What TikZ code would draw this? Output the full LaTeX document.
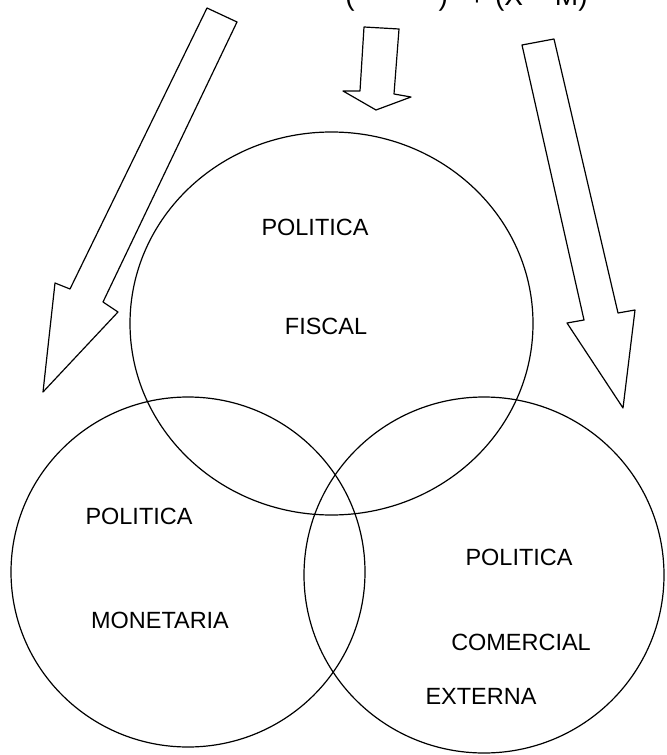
\documentclass[tikz,border=0pt]{standalone}
\usepackage{fontspec}
\setmainfont{Liberation Sans}

\tikzset{
  rotulo/.style={inner sep=0pt, font=\fontsize{17.6}{20}\selectfont},
  trazo/.style={line width=0.9pt, line join=round}
}

\begin{document}
\begin{tikzpicture}[x=0.75pt, y=-0.75pt]

\useasboundingbox (0,0) rectangle (666,755);

% Ecuacion (cortada arriba)
\begin{scope}
\clip (0,0) rectangle (666,755);
\node[rotulo, anchor=base west, font=\fontsize{21}{24}\selectfont] (ecuacion)
at (345,6)
{(\hspace{3em})\hspace{0.75em}+\hspace{0.35em}(X − M)};
\end{scope}

% Flecha izquierda
\draw[trazo]
(207,8)
-- (237,22)
-- (103,302)
-- (118,312)
-- (43,392)
-- (55,283)
-- (70,289)
-- cycle;

% Flecha central
\draw[trazo]
(364,27)
-- (399,29)
-- (394,94)
-- (411,97)
-- (376,110)
-- (343,91)
-- (360,91)
-- cycle;

% Flecha derecha
\draw[trazo]
(522,45)
-- (554,39)
-- (618,313)
-- (635,310)
-- (623,408)
-- (567,323)
-- (584,320)
-- cycle;

% Circulos
\draw[trazo] (331.5,323.5) ellipse [x radius=201.5, y radius=191.5];
\draw[trazo] (188,572) ellipse [x radius=177, y radius=175];
\draw[trazo] (484,575) ellipse [x radius=180, y radius=178];

% Politica fiscal
\node[rotulo] (fiscal1) at (315,227) {POLITICA};
\node[rotulo] (fiscal2) at (326,326) {FISCAL};

% Politica monetaria
\node[rotulo] (monet1) at (139,516) {POLITICA};
\node[rotulo] (monet2) at (160,620) {MONETARIA};

% Politica comercial externa
\node[rotulo] (comer1) at (519,557) {POLITICA};
\node[rotulo] (comer2) at (521,642) {COMERCIAL};
\node[rotulo] (comer3) at (481,696) {EXTERNA};

\end{tikzpicture}
\end{document}
